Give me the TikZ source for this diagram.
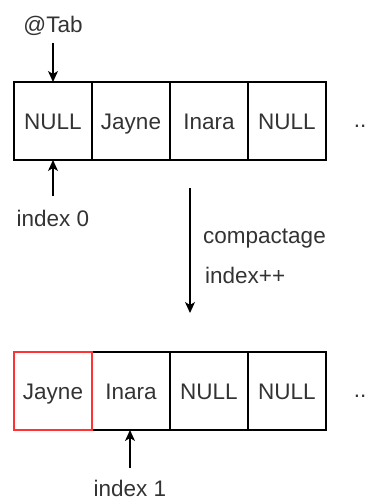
\documentclass[tikz,border=0pt]{standalone}
\usepackage{fontspec}
\setmainfont{Liberation Sans}
\usetikzlibrary{arrows.meta}
\definecolor{txt}{HTML}{333333}
\definecolor{redline}{HTML}{FF3333}
\begin{document}
\begin{tikzpicture}[x=1pt,y=-1pt,
  cell/.style={draw=black, line width=2.4pt, minimum width=78pt, minimum height=78pt, inner sep=0pt, outer sep=0pt, text=txt, text height=16pt, text depth=0pt, font=\fontsize{22.5}{26}\selectfont},
  redcell/.style={cell, draw=redline},
  lbl/.style={text=txt, font=\fontsize{22.5}{26}\selectfont, inner sep=0pt},
  arr/.style={line width=1.3pt, -{Stealth[length=11pt,width=10pt,inset=3pt]}}]
\useasboundingbox (0,0) rectangle (367,500);
% top row
\node[cell] (a1) at (53,121) {NULL};
\node[cell] (a2) at (131,121) {Jayne};
\node[cell] (a3) at (209,121) {Inara};
\node[cell] (a4) at (287,121) {NULL};
\node[lbl] (d1) at (360,126) {..};
% bottom row
\node[cell] (b2) at (131,391) {Inara};
\node[cell] (b3) at (209,391) {NULL};
\node[cell] (b4) at (287,391) {NULL};
\node[redcell] (b1) at (53,391) {Jayne};
\node[lbl] (d2) at (360,396) {..};
% labels
\node[lbl] (tab) at (53,26) {@Tab};
\node[lbl] (i0) at (53,218) {index 0};
\node[lbl] (i1) at (130,488) {index 1};
\node[lbl, anchor=west] (comp) at (203,239) {compactage};
\node[lbl, anchor=west] (inc) at (205,275) {index++};
\coordinate (t0) at (53,43);
\coordinate (s0) at (53,196);
\coordinate (s1) at (130,468);
\coordinate (c0) at (190,188);
\coordinate (c1) at (190,313);
\draw[arr] (t0) -- (a1.north);
\draw[arr] (s0) -- (a1.south);
\draw[arr] (s1) -- (b1.south -| s1);
\draw[arr] (c0) -- (c1);
\end{tikzpicture}
\end{document}
